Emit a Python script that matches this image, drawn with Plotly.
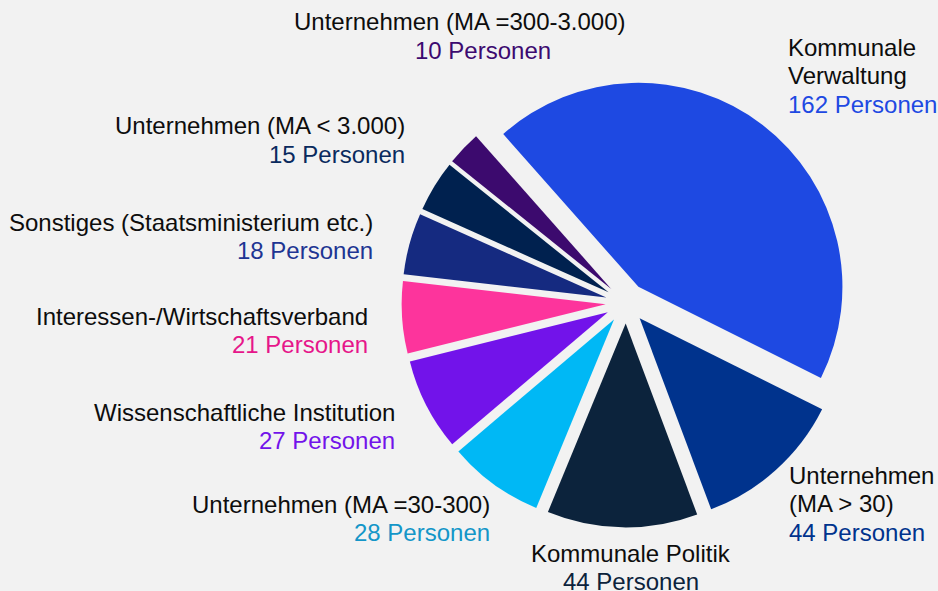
import plotly.graph_objects as go

# ---- data ----
labels = [
    "Kommunale Verwaltung",
    "Unternehmen (MA > 30)",
    "Kommunale Politik",
    "Unternehmen (MA =30-300)",
    "Wissenschaftliche Institution",
    "Interessen-/Wirtschaftsverband",
    "Sonstiges (Staatsministerium etc.)",
    "Unternehmen (MA < 3.000)",
    "Unternehmen (MA =300-3.000)",
]
values = [162, 44, 44, 28, 27, 21, 18, 15, 10]
name_lines = [
    ["Kommunale", "Verwaltung"],
    ["Unternehmen", "(MA > 30)"],
    ["Kommunale Politik"],
    ["Unternehmen (MA =30-300)"],
    ["Wissenschaftliche Institution"],
    ["Interessen-/Wirtschaftsverband"],
    ["Sonstiges (Staatsministerium etc.)"],
    ["Unternehmen (MA < 3.000)"],
    ["Unternehmen (MA =300-3.000)"],
]
unit = "Personen"

# ---- styles ----
slice_colors = ["#1E49E2", "#00338D", "#0C233C", "#00B8F5", "#7213EA",
                "#FD349C", "#152A80", "#00214F", "#3C0A6E"]
count_colors = ["#1E49E2", "#00338D", "#0C233C", "#1496C8", "#7213EA",
                "#E6168A", "#1E3593", "#0A2A5E", "#3C0A70"]
BG = "#F2F2F2"
W, H = 938, 591
FONT = "Arial, Liberation Sans, sans-serif"
FS = 24
LINE = 28.5

# label placement (pixels): name block anchor and count anchor
name_pos = [(788, 47, "left"), (789, 475, "left"), (631, 553, "center"),
            (490, 504, "right"), (395, 412, "right"), (368, 316, "right"),
            (373, 222, "right"), (405, 126, "right"), (460, 22, "center")]
count_pos = [(788, "left"), (789, "left"), (631, "center"),
             (490, "right"), (395, "right"), (368, "right"),
             (373, "right"), (405, "right"), (483, "center")]

# pie geometry (pixel centre, radius, pull)
CX, CY, R, PULL = 626, 303, 204, 0.1
half = R * (1 + PULL)

fig = go.Figure(go.Pie(
    labels=labels, values=values, sort=False, direction="clockwise",
    rotation=-41.5, pull=[PULL] * len(values),
    marker=dict(colors=slice_colors, line=dict(width=0)),
    textinfo="none", hoverinfo="label+value", showlegend=False,
    domain=dict(x=[(CX - half) / W, (CX + half) / W],
                y=[(H - CY - half) / H, (H - CY + half) / H]),
))

annotations = []
def add(text, px, py, anchor, color):
    annotations.append(dict(
        text=text, x=px / W, y=1 - py / H, xref="paper", yref="paper",
        xanchor=anchor, yanchor="middle", showarrow=False,
        borderpad=0, borderwidth=0,
        font=dict(family=FONT, size=FS, color=color)))

for i, lines in enumerate(name_lines):
    nx, ny, na = name_pos[i]
    for j, ln in enumerate(lines):
        add(ln, nx, ny + j * LINE, na, "#0D0D0D")
    cx_, ca = count_pos[i]
    add(f"{values[i]} {unit}", cx_, ny + len(lines) * LINE, ca, count_colors[i])

fig.update_layout(
    width=W, height=H, margin=dict(l=0, r=0, t=0, b=0),
    paper_bgcolor=BG, plot_bgcolor=BG, annotations=annotations,
    font=dict(family=FONT),
)
fig.write_html(
    "out.html",
    config={"displayModeBar": False},
    post_script="document.body.style.margin='0';document.body.style.overflow='hidden';"
                f"document.body.style.background='{BG}';",
)
